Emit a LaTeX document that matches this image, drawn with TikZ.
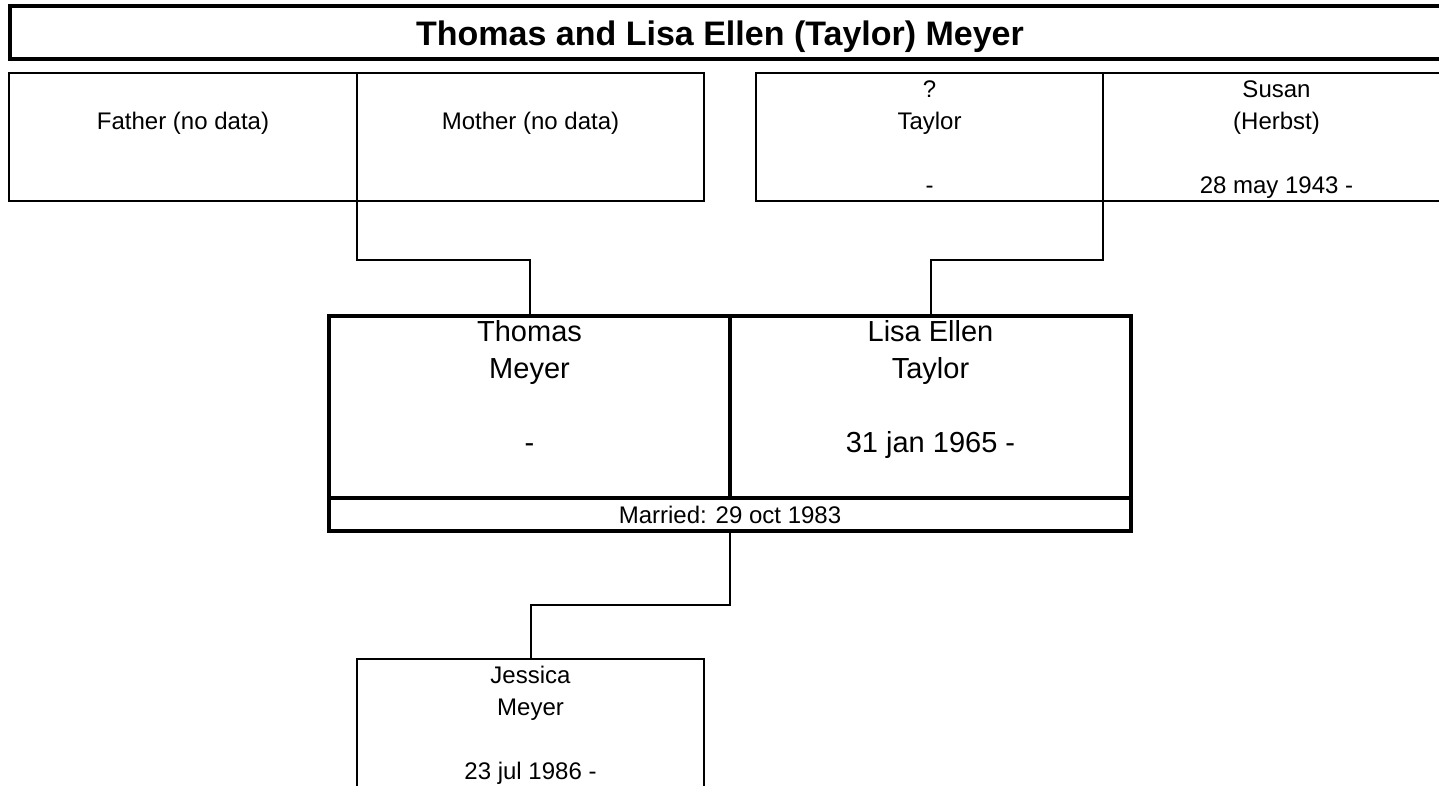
\documentclass[tikz,border=0pt]{standalone}
\usepackage{fontspec}
\setmainfont{Liberation Sans}
\newcommand\boxlines[1]{\begin{tabular}[t]{@{}c@{}}#1\end{tabular}}
\begin{document}
\begin{tikzpicture}[x=1pt,y=-1pt,
  thinbox/.style={draw, line width=1.7pt, inner sep=0pt, outer sep=0pt, anchor=north west},
  thickbox/.style={draw, line width=3.2pt, inner sep=0pt, outer sep=0pt, anchor=north west},
  smalltxt/.style={inner sep=0pt, anchor=base, font=\fontsize{24}{32}\selectfont},
  bigtxt/.style={inner sep=0pt, anchor=base, font=\fontsize{29}{37}\selectfont},
  titletxt/.style={inner sep=0pt, anchor=base, font=\fontsize{34}{40}\selectfont\bfseries},
  conn/.style={draw, line width=2pt}]
\useasboundingbox (0,0) rectangle (1439,785);
% title
\node[draw, line width=4pt, inner sep=0pt, outer sep=0pt, anchor=north west,
      minimum width=1460pt, minimum height=53pt] (title) at (9.5,6) {};
\node[titletxt] (titletext) at (720,45) {Thomas and Lisa Ellen (Taylor) Meyer};
% grandparents
\node[thinbox, minimum width=348pt, minimum height=128pt] (father) at (9,73) {};
\node[thinbox, minimum width=347pt, minimum height=128pt] (mother) at (357,73) {};
\node[thinbox, minimum width=347pt, minimum height=128pt] (ptaylor) at (756,73) {};
\node[thinbox, minimum width=347pt, minimum height=128pt] (susan) at (1103,73) {};
\node[smalltxt] (fatherT) at ([yshift=-56pt]father.north) {Father (no data)};
\node[smalltxt] (motherT) at ([yshift=-56pt]mother.north) {Mother (no data)};
\node[smalltxt] (ptaylorT) at ([yshift=-24pt]ptaylor.north) {\boxlines{?\\Taylor\\ \\-}};
\node[smalltxt] (susanT) at ([yshift=-24pt]susan.north) {\boxlines{Susan\\(Herbst)\\ \\28 may 1943 -}};
% couple
\node[thickbox, minimum width=401pt, minimum height=182pt] (thomas) at (329,316) {};
\node[thickbox, minimum width=401pt, minimum height=182pt] (lisa) at (730,316) {};
\node[thickbox, minimum width=802pt, minimum height=33pt] (married) at (329,498) {};
\node[bigtxt] (thomasT) at ([yshift=-25pt]thomas.north) {\boxlines{Thomas\\Meyer\\ \\-}};
\node[bigtxt] (lisaT) at ([yshift=-25pt]lisa.north) {\boxlines{Lisa Ellen\\Taylor\\ \\31 jan 1965 -}};
\node[smalltxt] (marriedT) at ([yshift=-25pt]married.north) {Married: 29 oct 1983};
% child
\node[thinbox, minimum width=347pt, minimum height=128pt] (jessica) at (357,659) {};
\node[smalltxt] (jessicaT) at ([yshift=-24pt]jessica.north) {\boxlines{Jessica\\Meyer\\ \\23 jul 1986 -}};
% connectors
\draw[conn] (father.south east) -- ++(0,59) -| (thomas.north);
\draw[conn] (ptaylor.south east) -- ++(0,59) -| (lisa.north);
\draw[conn] (married.south) -- ++(0,74) -| (jessica.north);
\end{tikzpicture}
\end{document}
